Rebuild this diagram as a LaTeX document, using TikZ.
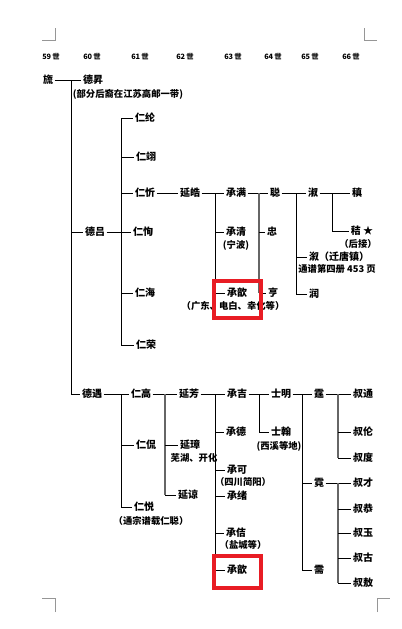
\documentclass[tikz,border=0pt]{standalone}
\usepackage{fontspec}
\usepackage{tikz}
\newfontfamily\cjk{Noto Sans CJK SC}
\definecolor{boxcol}{RGB}{232,28,36}
\definecolor{markcol}{RGB}{150,150,150}

\begin{document}
\begin{tikzpicture}[x=0.75pt,y=-0.75pt,
  nm/.style={inner sep=1pt,font=\cjk\bfseries\fontsize{7.5}{8}\selectfont},
  nt/.style={inner sep=0.5pt,font=\cjk\bfseries\fontsize{7}{8}\selectfont},
  gen/.style={inner sep=0pt,font=\cjk\bfseries\fontsize{5.5}{6}\selectfont},
  ln/.style={line width=0.6pt},
  gl/.style={line width=0.8pt,gray!80!black}]
\useasboundingbox (0,0) rectangle (401,629);
% page corner marks
\draw[markcol,line width=0.5pt] (55,28) -- (55,40) -- (42,40);
\draw[markcol,line width=0.5pt] (364,28) -- (364,40) -- (377,40);
\draw[markcol,line width=0.5pt] (55,612) -- (55,598) -- (42,598);
\draw[markcol,line width=0.5pt] (377,612) -- (377,598) -- (390,598);
% generations
\foreach \g/\x in {59/51,60/92,61/140,62/185,63/233,64/273,65/310,66/351}
  \node[gen] (g\g) at (\x,57) {\g\,世};
% upper branch
\node[nm] (liu) at (48,80) {旒};
\node[nm] (desheng) at (93,80) {德昇};
\node[nt] (deshengn) at (128,94) {(部分后裔在江苏高邮一带)};
\node[nm] (delv) at (95,232) {德吕};
\node[nm] (renxu) at (145,118) {仁纶};
\node[nm] (renyi) at (146,157) {仁翊};
\node[nm] (renxin) at (145,193) {仁忻};
\node[nm] (renxun) at (143,232) {仁恂};
\node[nm] (renhai) at (145,293) {仁海};
\node[nm] (renrong) at (146,345) {仁荣};
\node[nm] (yanhao) at (190,193) {延皓};
\node[nm] (chengman) at (236,193) {承满};
\node[nm] (chengqing) at (236,232) {承清};
\node[nt] (chengqingn) at (236,245) {(宁波)};
\node[nm] (chengxin) at (237,293) {承歆};
\node[nt] (chengxinn) at (233,306) {（广东、电白、幸化等）};
\node[nm] (cong) at (275,193) {聪};
\node[nm] (zhong) at (272,232) {忠};
\node[nm] (heng) at (273,293) {亨};
\node[nm] (shu) at (313,193) {淑};
\node[nm] (shub) at (339,257) {溆（迁唐镇）};
\node[nt] (shubn) at (337,269) {通谱第四册 453 页};
\node[nm] (run) at (314,294) {润};
\node[nm] (zhen) at (357,193) {稹};
\node[nm] (jie) at (362,231) {秸 ★};
\node[nt] (jien) at (358,244) {（后接）};
% lower branch
\node[nm] (deyu) at (92,394) {德遇};
\node[nm] (rengao) at (141,394) {仁高};
\node[nm] (renkan) at (146,445) {仁侃};
\node[nm] (renyue) at (144,507) {仁悦};
\node[nt] (renyuen) at (151,521) {（通宗谱载仁聪）};
\node[nm] (yanfang) at (189,394) {延芳};
\node[nm] (yanzhang) at (190,445) {延璋};
\node[nt] (yanzhangn) at (194,458) {芜湖、开化};
\node[nm] (yanliang) at (188,495) {延谅};
\node[nm] (chengji) at (237,394) {承吉};
\node[nm] (chengde) at (236,432) {承德};
\node[nm] (chengke) at (237,470) {承可};
\node[nt] (chengken) at (243,482) {（四川简阳）};
\node[nm] (chengxu) at (237,496) {承绪};
\node[nm] (chengji2) at (236,533) {承佶};
\node[nt] (chengji2n) at (243,545) {（盐城等）};
\node[nm] (chengxin2) at (237,570) {承歆};
\node[nm] (shiming) at (281,394) {士明};
\node[nm] (shihan) at (281,432) {士翰};
\node[nt] (shihann) at (279,446) {(西溪等地)};
\node[nm] (ting) at (319,394) {霆};
\node[nm] (ni) at (319,483) {霓};
\node[nm] (xu) at (319,570) {需};
\foreach \n/\t/\y in {tong/通/394,lun/伦/432,du/度/458,cai/才/483,gong/恭/509,yu/玉/533,gu/古/558,ao/敖/583}
  \node[nm] (shu\n) at (363,\y) {叔\t};
% junctions
\coordinate (j0) at (71,80);
\coordinate (j1) at (121,232);
\coordinate (j2) at (215,193);
\coordinate (j3) at (259,193);
\coordinate (j4) at (296,193);
\coordinate (j5) at (332,193);
\coordinate (j6) at (121,394);
\coordinate (j7) at (165,394);
\coordinate (j8) at (215,394);
\coordinate (j9) at (259,394);
\coordinate (j10) at (302,394);
\coordinate (j11) at (338,394);
\coordinate (j12) at (338,483);
% connectors, upper
\draw[ln] (liu) -- (desheng);
\draw[ln] (j0) |- (deyu.west);
\draw[ln] (j0 |- delv) -- (delv.west);
\draw[ln] (delv) -- (renxun);
\draw[ln] (j1 |- renxu) -- (j1 |- renrong);
\foreach \c in {renxu,renyi,renxin,renhai,renrong}
  \draw[ln] (j1 |- \c) -- (\c.west);
\draw[ln] (renxin) -- (yanhao);
\draw[ln] (yanhao) -- (chengman);
\draw[ln] (j2) |- (chengxin.west);
\draw[ln] (j2 |- chengqing) -- (chengqing.west);
\draw[ln] (chengman) -- (cong);
\draw[gl] (j3) -- (j3 |- heng);
\draw[ln] (j3 |- zhong) -- (zhong.west);
\draw[ln] (j3 |- heng) -- (heng.west);
\draw[ln] (cong) -- (shu);
\draw[ln] (j4) |- (run.west);
\draw[ln] (j4 |- shub) -- (shub.west);
\draw[ln] (shu) -- (zhen);
\draw[ln] (j5) |- (jie.west);
% connectors, lower
\draw[ln] (deyu) -- (rengao);
\draw[ln] (j6) |- (renyue.west);
\draw[ln] (j6 |- renkan) -- (renkan.west);
\draw[ln] (rengao) -- (yanfang);
\draw[gl] (j7) -- (j7 |- yanliang);
\foreach \c in {yanzhang,yanliang}
  \draw[ln] (j7 |- \c) -- (\c.west);
\draw[ln] (yanfang) -- (chengji);
\draw[ln] (j8) -- (j8 |- chengxin2);
\foreach \c in {chengde,chengke,chengxu,chengji2,chengxin2}
  \draw[ln] (j8 |- \c) -- (\c.west);
\draw[ln] (chengji) -- (shiming);
\draw[ln] (j9) |- (shihan.west);
\draw[ln] (shiming) -- (ting);
\draw[ln] (j10) |- (xu.west);
\draw[ln] (j10 |- ni) -- (ni.west);
\draw[ln] (ting) -- (shutong);
\draw[gl] (j11) -- (j11 |- shudu);
\foreach \c in {shulun,shudu}
  \draw[ln] (j11 |- \c) -- (\c.west);
\draw[ln] (ni) -- (shucai);
\draw[gl] (j12) -- (j12 |- shuao);
\foreach \c in {shugong,shuyu,shugu,shuao}
  \draw[ln] (j12 |- \c) -- (\c.west);
% marked entries
\draw[boxcol,line width=3pt] (214,281) rectangle (261,318);
\draw[boxcol,line width=3pt] (214,556) rectangle (261,588);
\end{tikzpicture}
\end{document}
